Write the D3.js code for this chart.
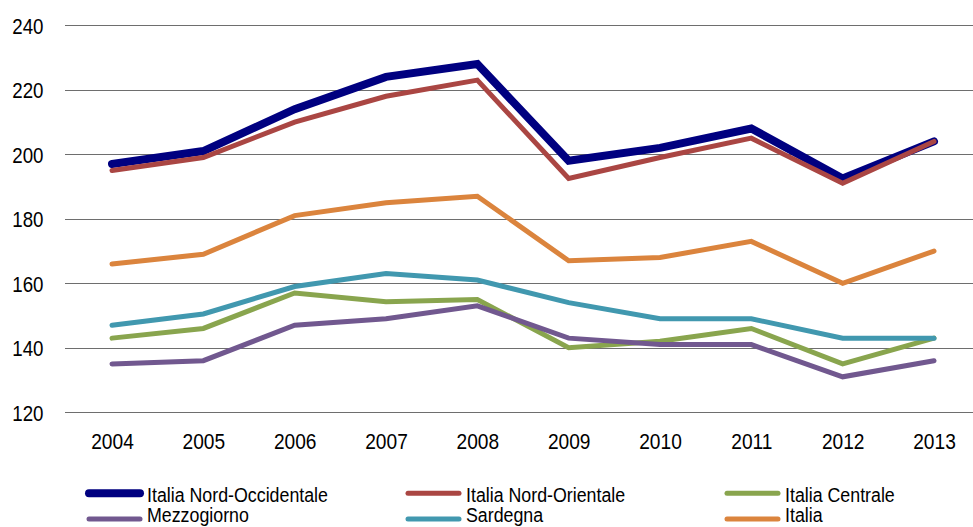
<!DOCTYPE html>
<html><head><meta charset="utf-8">
<script src="https://cdn.jsdelivr.net/npm/d3@7"></script>
<style>body{margin:0;background:#fff}svg{display:block;font-family:"Liberation Sans",Arial,sans-serif}</style>
</head><body>
<svg id="c" width="973" height="527"></svg>
<script>
const years = [2004,2005,2006,2007,2008,2009,2010,2011,2012,2013];
const yTicks = [120,140,160,180,200,220,240];
const nordOcc = [197,201,214,224,228,198,202,208,192.5,204];
const nordOr = [195,199,210,218,223,192.5,199,205,191,204];
const centrale = [143,146,157,154.3,155,140,142,146,135,143];
const mezzogiorno = [135,136,147,149,153,143,141,141,131,136];
const sardegna = [147,150.5,159,163,161,154,149,149,143,143];
const italia = [166,169,181,185,187,167,168,173,160,170];
const seriesNames = ["Italia Nord-Occidentale","Italia Nord-Orientale","Italia Centrale","Mezzogiorno","Sardegna","Italia"];
const seriesColors = ["#000080","#AA4643","#89A54E","#71588F","#4198AF","#DB843D"];
const seriesWidths = [8,5,5,5,5,5];
const seriesValues = [nordOcc,nordOr,centrale,mezzogiorno,sardegna,italia];

const FONT = "Liberation Sans, Arial, sans-serif";
const svg = d3.select("#c");
const x = d3.scalePoint().domain(years).range([112,934]);
const y = d3.scaleLinear().domain([120,240]).range([412.3,25.3]);

// gridlines
svg.append("g").selectAll("line").data(yTicks).join("line")
  .attr("x1",65).attr("x2",973)
  .attr("y1",d=>Math.round(y(d))+0.5).attr("y2",d=>Math.round(y(d))+0.5)
  .attr("stroke","#6e6e6e").attr("stroke-width",1.2);

// y axis labels
const yAxis = d3.axisLeft(y).tickValues(yTicks).tickSize(0).tickPadding(0);
const gy = svg.append("g").attr("transform","translate(43.5,0)").call(yAxis);
gy.select(".domain").remove();
gy.selectAll("text").attr("x",0).attr("dy",null).attr("y",8)
  .attr("font-size",22).attr("fill","#000").attr("font-family",FONT)
  .attr("transform","scale(0.85,1)");

// x axis labels
const xAxis = d3.axisBottom(x).tickSize(0).tickPadding(0);
const gx = svg.append("g").attr("transform","translate(0,449)").call(xAxis);
gx.select(".domain").remove();
gx.selectAll("text").attr("dy",null).attr("y",0)
  .attr("font-size",22).attr("fill","#000").attr("font-family",FONT)
  .attr("transform","scale(0.87,1)");

// lines
const line = d3.line().x((d,i)=>x(years[i])).y(d=>y(d));
seriesValues.forEach((vals,k)=>{
  svg.append("path").attr("d",line(vals)).attr("fill","none")
    .attr("stroke",seriesColors[k]).attr("stroke-width",seriesWidths[k])
    .attr("stroke-linecap","round").attr("stroke-linejoin","miter");
});

// legend
const colX = [86,405,724];
const rowY = [493.3,519];
const rowText = [502,522.3];
const lg = svg.append("g");
seriesNames.forEach((name,k)=>{
  const cx = colX[k%3], r = Math.floor(k/3), cy = rowY[r];
  lg.append("line").attr("x1",cx+3).attr("x2",cx+54).attr("y1",cy).attr("y2",cy)
    .attr("stroke",seriesColors[k]).attr("stroke-width",seriesWidths[k]).attr("stroke-linecap","round");
  lg.append("text").attr("transform",`translate(${cx+61},${rowText[r]}) scale(0.89,1)`)
    .attr("font-size",20).attr("fill","#000").text(name);
});
</script>
</body></html>
